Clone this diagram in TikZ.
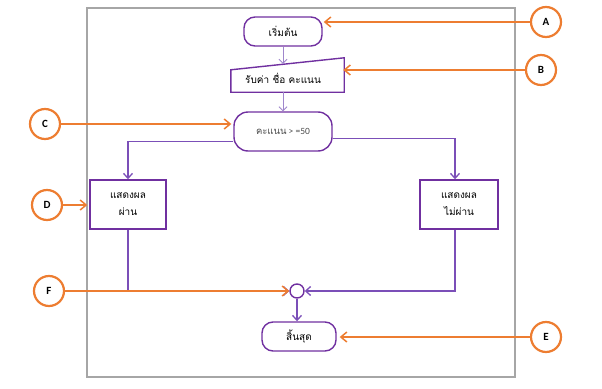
\documentclass[tikz,border=0pt]{standalone}
\usepackage{fontspec}
\setmainfont{Carlito}
\newfontfamily\thai[Script=Thai]{Loma}
\usetikzlibrary{arrows.meta,calc}
\definecolor{purp}{HTML}{7030A0}
\definecolor{lpurp}{HTML}{9F86CC}
\definecolor{mpurp}{HTML}{7B4FB8}
\definecolor{orng}{HTML}{ED7D31}
\tikzset{
  term/.style={draw=purp,line width=1.4pt,rounded corners=11pt,minimum width=78pt,minimum height=29pt,font=\thai\fontsize{10}{11}\selectfont,inner sep=1pt},
  procbox/.style={draw=purp,line width=1.4pt,minimum width=76pt,minimum height=49pt,font=\thai\fontsize{10}{12}\selectfont,align=center,inner sep=1pt},
  lab/.style={draw=orng,line width=2.2pt,circle,minimum size=30pt,inner sep=0pt,font=\bfseries\fontsize{11}{13}\selectfont},
  conn/.style={draw=mpurp,line width=1.3pt,-{Straight Barb[length=5pt,width=9pt]}},
  lconn/.style={draw=lpurp,line width=0.9pt,-{Straight Barb[length=4pt,width=8pt]}},
  oarr/.style={draw=orng,line width=1.5pt,-{Straight Barb[length=6pt,width=10pt]}}
}
\begin{document}
\begin{tikzpicture}[x=1pt,y=-1pt]
\useasboundingbox (0,0) rectangle (602,388);
\draw[gray!70,line width=1.2pt] (87,8) rectangle (515,377);
% flow nodes
\node[term] (start) at (283,31.5) {เริ่มต้น};
\node[draw=none,minimum width=113pt,minimum height=28pt,inner sep=0pt,font=\thai\fontsize{10}{11}\selectfont] (inp) at (287.5,78) {\hspace*{-9pt}รับค่า ชื่อ คะแนน};
\draw[purp,line width=1.4pt] (inp.south west) -- (inp.south east) -- ($(inp.north east)+(0,-6)$) -- ($(inp.north west)+(0,6)$) -- cycle;
\node[term,minimum width=98pt,minimum height=39pt,rounded corners=14pt,font=\fontsize{9.5}{11}\selectfont,text=black!70] (dec) at (283,131.5) {{\thai คะแนน} > =50};
\node[procbox] (D) at (128,204.5) {แสดงผล\\[5pt]ผ่าน};
\node[procbox,minimum width=78pt] (R) at (459,204.5) {แสดงผล\\[5pt]ไม่ผ่าน};
\node[draw=purp,line width=1.4pt,circle,minimum size=14pt,inner sep=0pt] (m) at (297,291) {};
\node[term,minimum width=74pt] (end) at (299,336.5) {สิ้นสุด};
% connectors
\draw[lconn] (start.south) -- (start.south |- inp.north);
\draw[lconn] (inp.south -| start.south) -- (start.south |- dec.north);
\draw[conn] ($(dec.west)+(0,10)$) -| (D.north);
\draw[conn] ($(dec.east)+(0,7)$) -| ($(R.north)+(-4,0)$);
\draw[conn] (D.south) |- (m.west);
\draw[conn] ($(R.south)+(-4,0)$) |- (m.east);
\draw[conn] (m.south) -- (m.south |- end.north);
% labels
\node[lab] (A) at (546,22) {A};
\node[lab] (B) at (541,70) {B};
\node[lab] (C) at (45,124) {C};
\node[lab] (Dl) at (47,205) {D};
\node[lab] (F) at (49,291) {F};
\node[lab] (E) at (546,337) {E};
\draw[oarr] (A.west) -- ($(A.west -| start.east)+(1,0)$);
\draw[oarr] (B.west) -- ($(B.west -| inp.east)+(-1,0)$);
\draw[oarr] (C.east) -- ($(C.east -| dec.west)+(-2,0)$);
\draw[oarr] (Dl.east) -- ($(Dl.east -| D.west)+(-2,0)$);
\draw[oarr] (F.east) -- (m.west);
\draw[oarr] (E.west) -- ($(E.west -| end.east)+(3,0)$);
\end{tikzpicture}
\end{document}
